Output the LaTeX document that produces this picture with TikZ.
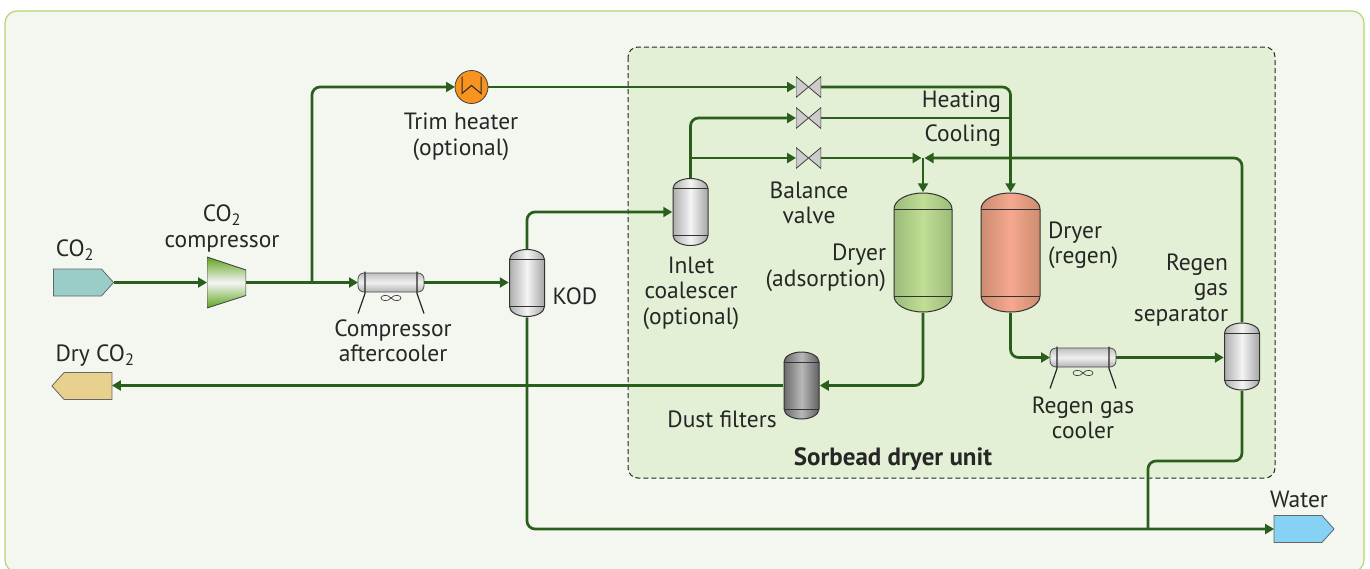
\documentclass[tikz,border=0pt]{standalone}
\usepackage{fontspec}
\setmainfont{PT Sans}
\usetikzlibrary{arrows.meta, shapes.symbols}

\definecolor{pipegreen}{HTML}{2A5E1C}
\definecolor{panelbg}{HTML}{F3F7F0}
\definecolor{panelline}{HTML}{B7D66E}
\definecolor{unitbg}{HTML}{E3F0D5}
\definecolor{feedtag}{HTML}{9ACCC8}
\definecolor{producttag}{HTML}{E8D08F}
\definecolor{watertag}{HTML}{85D2F5}
\definecolor{dryerlo}{HTML}{9CBB79}
\definecolor{dryerhi}{HTML}{C0DE94}
\definecolor{regenlo}{HTML}{CC8C70}
\definecolor{regenhi}{HTML}{F5A890}
\definecolor{compgreen}{HTML}{5FA51E}
\definecolor{heaterorange}{HTML}{F7931E}

\begin{document}
\begin{tikzpicture}[x=1pt, y=-1pt,
every node/.style = {inner sep=0pt, outer sep=0pt, text=black!85, font=\fontsize{23.5}{25.5}\selectfont},
lbl/.style = {align=center},
tag/.style n args={2}{shape=signal, signal to=#1, signal pointer angle=96, draw=black!60, line width=0.8pt, fill=#2, minimum width=60pt, minimum height=27pt},
pipe/.style = {draw=pipegreen, line width=2.7pt, rounded corners=8pt},
flow/.style = {pipe, -{Triangle[length=9pt, width=10pt]}},
vessel/.style n args={6}{minimum width=#1pt+1.5pt, minimum height=#2pt+1.5pt,
	path picture={
		\begin{scope}[shift={(path picture bounding box.center)}]
		\shade[left color=#4, right color=#6, middle color=#5]
			(-#1/2,-#2/2+#3) arc[start angle=180, end angle=360, x radius=#1/2, y radius=#3]
			-- (#1/2,#2/2-#3) arc[start angle=0, end angle=180, x radius=#1/2, y radius=#3] -- cycle;
		\draw[black!80, line width=1pt]
			(-#1/2,-#2/2+#3) arc[start angle=180, end angle=360, x radius=#1/2, y radius=#3]
			-- (#1/2,#2/2-#3) arc[start angle=0, end angle=180, x radius=#1/2, y radius=#3] -- cycle;
		\draw[black!80, line width=1pt] (-#1/2,-#2/2+#3) -- (#1/2,-#2/2+#3) (-#1/2,#2/2-#3) -- (#1/2,#2/2-#3);
		\end{scope}}},
drum/.style n args={3}{vessel={35}{67}{10}{#1}{#2}{#3}},
steel/.style = {drum={black!32}{black!4}{black!35}},
valve/.style = {minimum width=25pt, minimum height=21pt,
	path picture={
		\draw[black!75, line width=0.8pt, fill=black!20]
			(path picture bounding box.north west) -- (path picture bounding box.south east)
			-- (path picture bounding box.north east) -- (path picture bounding box.south west) -- cycle;}},
cooler/.style = {draw=black!70, line width=0.8pt, rounded corners=6pt, minimum width=66pt, minimum height=19pt,
	top color=black!25, bottom color=black!30, middle color=black!6}]
%
\useasboundingbox (0,0) rectangle (1370,568);
\draw[fill=panelbg, draw=panelline, line width=1.2pt, rounded corners=12pt] (5,11) rectangle (1364,572);
\draw[fill=unitbg, draw=black!85, line width=1pt, dash pattern=on 5pt off 3pt, rounded corners=10pt] (628,47) rectangle (1275,478);

% equipment
\node[tag={east}{feedtag}] at (77.5,282.5) (feed) {};
\node[tag={west}{producttag}] at (88,386) (product) {};
\node[tag={east}{watertag}] at (1298,529) (water) {};
\node[minimum width=39pt, minimum height=52pt,
	path picture={
		\begin{scope}[shift={(path picture bounding box.center)}]
		\draw[black!75, line width=0.8pt, top color=compgreen, bottom color=compgreen, middle color=black!4]
			(-19.5,-25.5) -- (19.5,-12.5) -- (19.5,13) -- (-19.5,25.5) -- cycle;
		\end{scope}}] at (226.5,282.5) (compressor) {};
\node[shape=circle, minimum size=33pt, fill=heaterorange, draw=black!75, line width=0.8pt,
	path picture={
		\begin{scope}[shift={(path picture bounding box.center)}]
		\draw[black!85, line width=1pt] (-9.5,-10.5) -- (-9.5,6.5) -- (0,-1.5) -- (9.5,6.5) -- (9.5,-10.5);
		\end{scope}}] at (471.5,87) (heater) {};
\node[cooler] at (391,282.5) (aftercooler) {};
\node[cooler] at (1083,357.5) (regencooler) {};
\node[steel] at (527,283) (kod) {};
\node[steel] at (690.5,212) (coalescer) {};
\node[steel] at (1242,356.5) (separator) {};
\node[drum={black!58}{black!28}{black!62}] at (801.5,385.5) (dust) {};
\node[vessel={58}{119}{16}{dryerlo}{dryerhi}{dryerlo}] at (923,252.5) (dryer) {};
\node[vessel={59}{119}{16}{regenlo}{regenhi}{regenlo}] at (1010.5,252.5) (regen) {};
\node[valve] at (808.5,87) (heatvalve) {};
\node[valve] at (808.5,118) (coolvalve) {};
\node[valve] at (808.5,158) (balance) {};

% cooler frames and fans
\foreach \c in {aftercooler, regencooler} {
	\begin{scope}[shift={(\c.center)}]
	\draw[black!85, line width=1.2pt] (-26,-11) -- (-26,11) (26,-11) -- (26,11) (-26,11) -- (-33,31) (26,11) -- (33,31);
	\draw[black!75, line width=0.7pt] (0,15.5) .. controls (3,11.5) and (10,12.5) .. (10,15.5) .. controls (10,18.5) and (3,19.5) .. (0,15.5)
		.. controls (-3,11.5) and (-10,12.5) .. (-10,15.5) .. controls (-10,18.5) and (-3,19.5) .. (0,15.5);
	\end{scope}
}

% junctions
\coordinate (tee) at (312,282.5);
\coordinate (mix) at (dryer.north |- balance.east);
\coordinate (drop) at (1148,461);

% pipes
\draw[flow] (feed.east) -- (compressor.west);
\draw[flow] (compressor.east) -- (aftercooler.west);
\draw[flow] (aftercooler.east) -- (kod.west |- aftercooler.east);
\draw[flow] (tee) |- (heater.west);
\draw[flow] (heater.east) -- (heatvalve.west);
\draw[flow] (kod.north) |- (coalescer.west);
\draw[flow] (coalescer.north) |- (coolvalve.west);
\draw[flow] (coalescer.north |- balance.west) -- (balance.west);
\draw[flow] (heatvalve.east) -| (regen.north);
\draw[pipe] (coolvalve.east) -- (regen.north |- coolvalve.east);
\draw[flow, shorten >=1.5pt] (balance.east) -- (mix);
\draw[flow, shorten >=1.5pt] (separator.north) |- (mix);
\draw[flow] (mix) -- (dryer.north);
\draw[flow] (dryer.south) |- (dust.east);
\draw[flow] (dust.west) -- (product.east |- dust.west);
\draw[flow] (regen.south) |- (regencooler.west);
\draw[flow] (regencooler.east) -- (separator.west |- regencooler.east);
\draw[flow] (kod.south) |- (water.west);
\draw[pipe] (separator.south) |- (drop) -- (drop |- water.west);

% labels
\node[lbl] at (75,250) (feedtext) {CO\textsubscript{2}};
\node[lbl] at (95,356) (producttext) {Dry CO\textsubscript{2}};
\node[lbl] at (222,228.5) (compressortext) {CO\textsubscript{2}\\compressor};
\node[lbl] at (461,137) (heatertext) {Trim heater\\(optional)};
\node[lbl] at (393,341) (aftercoolertext) {Compressor\\aftercooler};
\node[lbl] at (575,296) (kodtext) {KOD};
\node[lbl] at (691,293) (coalescertext) {Inlet\\coalescer\\(optional)};
\node[lbl] at (809,203) (balancetext) {Balance\\valve};
\node[lbl, align=right, anchor=east] at (886,268) (dryertext) {Dryer\\(adsorption)};
\node[lbl, align=left, anchor=west] at (1048,245.5) (regentext) {Dryer\\(regen)};
\node[lbl, align=right, anchor=east] at (1228,290) (separatortext) {Regen\\gas\\separator};
\node[lbl, anchor=east] at (1001,102) (heatingtext) {Heating};
\node[lbl, anchor=east] at (1001,136) (coolingtext) {Cooling};
\node[lbl] at (722,419) (dusttext) {Dust filters};
\node[lbl] at (1083,418) (regencoolertext) {Regen gas\\cooler};
\node[lbl, font=\fontsize{25}{25.5}\selectfont\bfseries] at (893,459) (unittext) {Sorbead dryer unit};
\node[lbl] at (1299,499) (watertext) {Water};
\end{tikzpicture}
\end{document}
